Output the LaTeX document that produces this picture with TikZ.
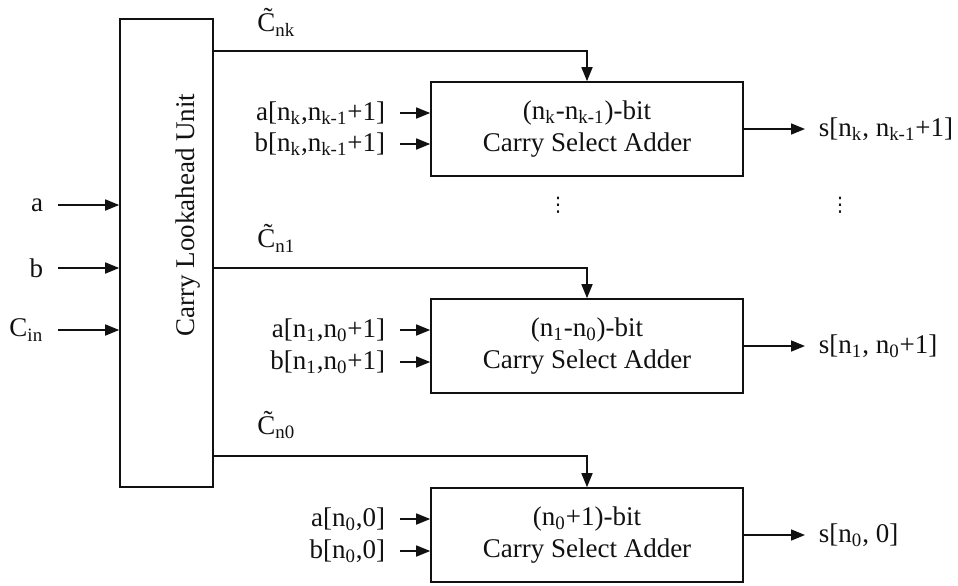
\documentclass[tikz,border=0pt]{standalone}
\usepackage{fontspec}
\setmainfont{Liberation Serif}
\newfontfamily\dotsfont{DejaVu Sans}
\usetikzlibrary{arrows.meta}
\definecolor{ink}{HTML}{111111}

\begin{document}
\begin{tikzpicture}[x=0.5pt, y=-0.5pt, line width=0.8pt, draw=ink,
    every node/.style={font=\fontsize{13.5}{16}\selectfont, text=ink},
    sig/.style={-{Triangle[length=7pt, width=5.5pt]}},
    adder/.style={draw, minimum width=156pt, minimum height=47pt, align=center, inner sep=0pt},
    inlabel/.style={anchor=east, inner xsep=7pt, inner ysep=0pt},
    outlabel/.style={anchor=west, inner xsep=6.5pt, inner ysep=0pt}]
    \useasboundingbox (0,0) rectangle (958,585);
    \node[draw, minimum width=46.5pt, minimum height=234pt, inner sep=0pt] (clu) at (166.5,253) {};
    \node[rotate=90] (clutext) at (188,215) {Carry Lookahead Unit};
    \node[inlabel] (ina) at (58,205) {a};
    \node[inlabel] (inb) at (58,268) {b};
    \node[inlabel] (incin) at (58,330) {C\textsubscript{in}};
    \foreach \n in {ina,inb,incin}
      \draw[sig] (\n.east) -- (\n.east -| clu.west);

    \node[adder] (addk) at (587,129) {(n\textsubscript{k}-n\textsubscript{k-1})-bit\\Carry Select Adder};
    \node[adder] (add1) at (587,346) {(n\textsubscript{1}-n\textsubscript{0})-bit\\Carry Select Adder};
    \node[adder] (add0) at (587,535) {(n\textsubscript{0}+1)-bit\\Carry Select Adder};

    \node[inlabel] (akin) at (400,113) {a[n\textsubscript{k},n\textsubscript{k-1}+1]};
    \node[inlabel] (bkin) at (400,144) {b[n\textsubscript{k},n\textsubscript{k-1}+1]};
    \node[inlabel] (a1in) at (400,330) {a[n\textsubscript{1},n\textsubscript{0}+1]};
    \node[inlabel] (b1in) at (400,362) {b[n\textsubscript{1},n\textsubscript{0}+1]};
    \node[inlabel] (a0in) at (400,519) {a[n\textsubscript{0},0]};
    \node[inlabel] (b0in) at (400,551) {b[n\textsubscript{0},0]};
    \foreach \n/\m in {akin/addk,bkin/addk,a1in/add1,b1in/add1,a0in/add0,b0in/add0}
      \draw[sig] (\n.east) -- (\n.east -| \m.west);

    \node[outlabel] (sk) at (805,129) {s[n\textsubscript{k}, n\textsubscript{k-1}+1]};
    \node[outlabel] (s1) at (805,346) {s[n\textsubscript{1}, n\textsubscript{0}+1]};
    \node[outlabel] (s0) at (805,535) {s[n\textsubscript{0}, 0]};
    \draw[sig] (addk.east) -- (sk.west);
    \draw[sig] (add1.east) -- (s1.west);
    \draw[sig] (add0.east) -- (s0.west);

    \coordinate (ck) at (213,51);
    \coordinate (c1) at (213,268);
    \coordinate (c0) at (213,456);
    \draw[sig] (ck) -| (addk.north);
    \draw[sig] (c1) -| (add1.north);
    \draw[sig] (c0) -| (add0.north);
    \node[anchor=west] (ckl) at (250,22) {\~{C}\textsubscript{nk}};
    \node[anchor=west] (c1l) at (250,238) {\~{C}\textsubscript{n1}};
    \node[anchor=west] (c0l) at (250,425) {\~{C}\textsubscript{n0}};

    \node[font=\dotsfont\fontsize{10}{10}\selectfont] (dotsl) at (558,205) {⋮};
    \node[font=\dotsfont\fontsize{10}{10}\selectfont] (dotsr) at (840,205) {⋮};
  \end{tikzpicture}
\end{document}
